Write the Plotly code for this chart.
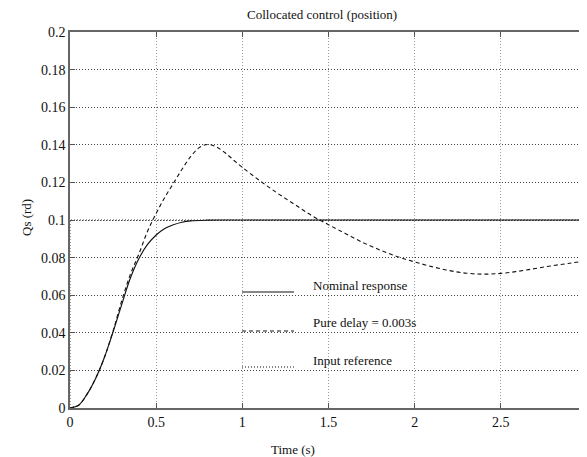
import plotly.graph_objects as go

# ---- data ----
t_nominal = [0, 0.05, 0.1, 0.15, 0.2, 0.25, 0.3, 0.35, 0.4, 0.45, 0.5, 0.55, 0.6,
             0.65, 0.7, 0.8, 0.9, 1.0, 1.5, 2.0, 2.5, 3.0]
q_nominal = [0, 0.0015, 0.0075, 0.016, 0.027, 0.0405, 0.055, 0.069, 0.0795, 0.087,
             0.092, 0.0955, 0.0975, 0.0988, 0.0995, 0.0999, 0.1, 0.1, 0.1, 0.1, 0.1, 0.1]

t_delay = [0, 0.05, 0.1, 0.15, 0.2, 0.25, 0.3, 0.35, 0.4, 0.45, 0.5, 0.55, 0.6, 0.65,
           0.7, 0.75, 0.8, 0.85, 0.9, 0.95, 1.0, 1.1, 1.2, 1.3, 1.4, 1.5, 1.6, 1.7,
           1.8, 1.9, 2.0, 2.1, 2.2, 2.3, 2.4, 2.5, 2.6, 2.7, 2.8, 2.9, 3.0]
q_delay = [0, 0.0015, 0.0075, 0.016, 0.027, 0.041, 0.057, 0.071, 0.082, 0.094, 0.1035,
           0.112, 0.1195, 0.127, 0.1337, 0.1385, 0.1402, 0.1388, 0.1358, 0.1318, 0.128,
           0.121, 0.1145, 0.1085, 0.1025, 0.0975, 0.0927, 0.088, 0.084, 0.0805, 0.0777,
           0.0752, 0.0731, 0.0717, 0.0712, 0.0716, 0.0727, 0.0742, 0.0757, 0.077, 0.0784]

t_ref = [0, 0, 3.0]
q_ref = [0, 0.1, 0.1]

x_ticks = [0, 0.5, 1, 1.5, 2, 2.5, 3]
x_ticklabels = ["0", "0.5", "1", "1.5", "2", "2.5", "3"]
y_ticks = [0, 0.02, 0.04, 0.06, 0.08, 0.1, 0.12, 0.14, 0.16, 0.18, 0.2]
y_ticklabels = ["0", "0.02", "0.04", "0.06", "0.08", "0.1", "0.12", "0.14", "0.16", "0.18", "0.2"]

legend_names = ["Nominal response", "Pure delay = 0.003s", "Input reference"]

FONT = "Liberation Serif"

# page has an 8px body margin: the figure is drawn 8px right/down
OFF = 8
L, T, PW, PH = 70 - OFF, 32 - OFF, 517, 376
W = 587 - OFF
H = 457 - OFF

def px(xp):  # page x pixel -> paper x
    return (xp - OFF - L) / PW

def py(yp):  # page y pixel -> paper y
    return (T + PH - (yp - OFF)) / PH

fig = go.Figure()
fig.add_trace(go.Scatter(x=t_ref, y=q_ref, mode="lines",
                         line=dict(color="#333", width=1, dash="1px,2px"),
                         name=legend_names[2], showlegend=False))
fig.add_trace(go.Scatter(x=t_delay, y=q_delay, mode="lines", line_shape="spline",
                         line=dict(color="#111", width=1.1, dash="4px,3px"),
                         name=legend_names[1], showlegend=False))
fig.add_trace(go.Scatter(x=t_nominal, y=q_nominal, mode="lines", line_shape="spline",
                         line=dict(color="#111", width=1.15),
                         name=legend_names[0], showlegend=False))

# legend drawn inside the plot area
leg_rows = [(292, 285, "solid", 1.2), (331, 322, "4px,3px", 1.1), (367, 360, "1px,2px", 1)]
for (yl, yt, dash, w), name in zip(leg_rows, legend_names):
    fig.add_shape(type="line", xref="paper", yref="paper", x0=px(242), x1=px(294),
                  y0=py(yl), y1=py(yl), line=dict(color="#111", width=w, dash=dash))
    fig.add_annotation(xref="paper", yref="paper", x=px(311), y=py(yt), text=name,
                       showarrow=False, xanchor="left", yanchor="middle",
                       font=dict(family=FONT, size=13, color="#111"))

fig.add_annotation(xref="paper", yref="paper", x=px(322), y=py(15),
                   text="Collocated control (position)", showarrow=False,
                   xanchor="center", yanchor="middle",
                   font=dict(family=FONT, size=13, color="#111"))
fig.add_annotation(xref="paper", yref="paper", x=px(293), y=py(449),
                   text="Time (s)", showarrow=False, xanchor="center", yanchor="middle",
                   font=dict(family=FONT, size=13, color="#111"))
fig.add_annotation(xref="paper", yref="paper", x=px(26), y=py(218),
                   text="Qs (rd)", showarrow=False, textangle=-90,
                   xanchor="center", yanchor="middle",
                   font=dict(family=FONT, size=13, color="#111"))

fig.update_layout(
    width=W, height=H,
    margin=dict(l=L, r=W - L - PW, t=T, b=H - T - PH, pad=0),
    paper_bgcolor="white", plot_bgcolor="white",
    font=dict(family=FONT, size=14, color="#111"),
    showlegend=False,
    xaxis=dict(range=[0, 3], tickvals=x_ticks, ticktext=x_ticklabels,
               showgrid=True, gridcolor="#999", griddash="1px,2px", gridwidth=1,
               showline=True, linecolor="#666", linewidth=1.5, mirror="ticks",
               ticks="inside", ticklen=5, tickcolor="#555", zeroline=False,
               automargin=False, ticklabeloverflow="allow",
               tickfont=dict(family=FONT, size=14)),
    yaxis=dict(range=[0, 0.2], tickvals=y_ticks, ticktext=y_ticklabels,
               showgrid=True, gridcolor="#444", griddash="1px,2px", gridwidth=1,
               showline=True, linecolor="#666", linewidth=1.5, mirror="ticks",
               ticks="inside", ticklen=5, tickcolor="#555", zeroline=False,
               automargin=False, ticklabeloverflow="allow",
               tickfont=dict(family=FONT, size=14)),
)

fig.write_html("out.html")
